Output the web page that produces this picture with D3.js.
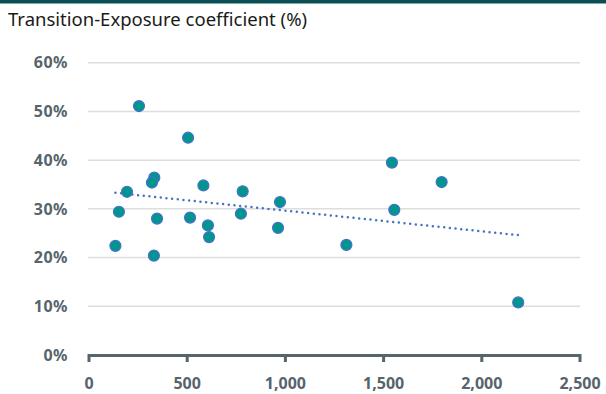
<!DOCTYPE html>
<html><head><meta charset="utf-8">
<script src="https://cdn.jsdelivr.net/npm/d3@7/dist/d3.min.js"></script>
<style>body{margin:0;background:#fff;}svg{display:block;font-family:"Noto Sans",Lato,sans-serif;}</style>
</head><body>
<script>
const title = "Transition-Exposure coefficient (%)";
const xValues = [257, 507, 335, 323, 196, 585, 785, 975, 155, 349, 517, 608, 614, 776, 965, 137, 333, 1313, 1557, 1545, 1798, 2188];
const yValues = [51.1, 44.6, 36.4, 35.4, 33.5, 34.8, 33.6, 31.4, 29.4, 28.0, 28.2, 26.6, 24.2, 29.0, 26.1, 22.4, 20.4, 22.6, 29.8, 39.5, 35.5, 10.8];
const trendX = [137, 2188];
const trendY = [33.3, 24.6];
const xTicks = [0, 500, 1000, 1500, 2000, 2500];
const yTicks = [0, 10, 20, 30, 40, 50, 60];

const W = 606, H = 394;
const svg = d3.select("body").append("svg").attr("width", W).attr("height", H);
svg.append("rect").attr("x",0).attr("y",0).attr("width",W).attr("height",3.5).attr("fill","#0b4f55");
svg.append("text").attr("x",8).attr("y",26).attr("font-size",18.5).attr("fill","#1a1a1a").text(title);

const x = d3.scaleLinear().domain([0,2500]).range([88.5,579.5]);
const y = d3.scaleLinear().domain([0,60]).range([355,62.7]);

// gridlines
svg.append("g").selectAll("line").data(yTicks.filter(d=>d>0)).join("line")
  .attr("x1",88).attr("x2",580).attr("y1",d=>y(d)).attr("y2",d=>y(d))
  .attr("stroke","#dedede").attr("stroke-width",1.5);

// y labels
svg.append("g").selectAll("text").data(yTicks).join("text")
  .attr("x",68).attr("y",d=>y(d)).attr("dy","0.36em").attr("text-anchor","end")
  .attr("font-size",16).attr("font-weight",700).attr("fill","#56646c").attr("letter-spacing",0.5)
  .text(d=>d+"%");

// x axis
const xAxis = d3.axisBottom(x).tickValues(xTicks).tickSize(7).tickSizeOuter(0).tickFormat(d3.format(",")).tickPadding(15.5);
const gx = svg.append("g").attr("transform","translate(0,355)").call(xAxis);
gx.select(".domain").attr("stroke","#56646c").attr("stroke-width",3);
gx.selectAll(".tick line").attr("stroke","#56646c").attr("stroke-width",3).attr("y1",-1);
gx.selectAll(".tick text").attr("font-size",16).attr("font-weight",700).attr("fill","#56646c").attr("font-family","'Noto Sans',Lato,sans-serif");

// trend
svg.append("line")
  .attr("x1",x(trendX[0])).attr("y1",y(trendY[0])).attr("x2",x(trendX[1])).attr("y2",y(trendY[1]))
  .attr("stroke","#4472c4").attr("stroke-width",2.5).attr("stroke-linecap","round").attr("stroke-dasharray","0,5.7");

// points
svg.append("g").selectAll("circle").data(xValues.map((v,i)=>[v,yValues[i]])).join("circle")
  .attr("cx",d=>x(d[0])).attr("cy",d=>y(d[1])).attr("r",5.5)
  .attr("fill","#00968f").attr("stroke","#4a6fc8").attr("stroke-width",1.2);
</script>
</body></html>
